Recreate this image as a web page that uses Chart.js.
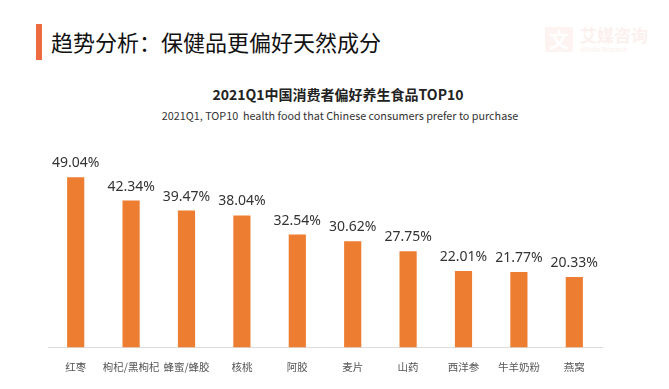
<!DOCTYPE html>
<html>
<head>
<meta charset="utf-8">
<script src="https://cdn.jsdelivr.net/npm/chart.js@4"></script>
<style>
  html, body { margin: 0; padding: 0; background: #fff; }
  body { width: 669px; height: 389px; position: relative; overflow: hidden; font-family: "Noto Sans CJK SC", "Noto Sans", sans-serif; }
  .bar-mark { position: absolute; left: 36px; top: 24px; width: 6px; height: 36px; background: #EE6A3F; }
  .head { position: absolute; left: 51px; top: 24px; font-size: 22px; color: #111; line-height: 34px; white-space: nowrap; }
  .logo-icon { position: absolute; left: 545px; top: 27px; width: 28px; height: 25px; background: #fdf3f1; color: #fff; font-size: 20px; line-height: 25px; text-align: center; font-weight: bold; }
  .logo { position: absolute; left: 580px; top: 24px; color: #fcf0ee; font-size: 17px; font-weight: bold; line-height: 22px; white-space: nowrap; }
  .logo small { display: block; font-size: 6px; font-weight: normal; line-height: 7px; }
  .title { position: absolute; left: 0; width: 676px; top: 84px; text-align: center; font-size: 14px; font-weight: bold; color: #222; line-height: 20px; }
  .sub { position: absolute; left: 0; width: 680px; top: 107px; text-align: center; font-size: 10.8px; color: #333; line-height: 16px; }
  #wrap { position: absolute; left: 0; top: 0; width: 669px; height: 389px; }
</style>
</head>
<body>
<div class="bar-mark"></div>
<div class="head">趋势分析：保健品更偏好天然成分</div>
<div class="logo-icon">文</div>
<div class="logo">艾媒咨询<small>iiMedia Research</small></div>
<div class="title">2021Q1中国消费者偏好养生食品TOP10</div>
<div class="sub">2021Q1, TOP10&nbsp; health food that Chinese consumers prefer to purchase</div>
<div id="wrap"><canvas id="healthChart"></canvas></div>
<script>
// Data
const categories = ['红枣', '枸杞/黑枸杞', '蜂蜜/蜂胶', '核桃', '阿胶', '麦片', '山药', '西洋参', '牛羊奶粉', '燕窝'];
const shares = [49.04, 42.34, 39.47, 38.04, 32.54, 30.62, 27.75, 22.01, 21.77, 20.33];

// value labels above the bars
const valueLabels = {
    id: 'valueLabels',
    afterDatasetsDraw(chart) {
        const ctx = chart.ctx;
        const meta = chart.getDatasetMeta(0);
        ctx.save();
        ctx.font = '14px "Noto Sans", sans-serif';
        ctx.fillStyle = '#333';
        ctx.textAlign = 'center';
        ctx.textBaseline = 'alphabetic';
        meta.data.forEach((bar, i) => {
            ctx.fillText(shares[i].toFixed(2) + '%', bar.x, bar.y - 10);
        });
        ctx.restore();
    }
};

function initChart() {
    const ctx = document.getElementById('healthChart');
    new Chart(ctx, {
        type: 'bar',
        data: {
            labels: categories,
            datasets: [{
                data: shares,
                backgroundColor: '#ED7D31',
                barPercentage: 0.62,
                categoryPercentage: 0.5
            }]
        },
        options: {
            responsive: true,
            maintainAspectRatio: false,
            animation: false,
            layout: { padding: { left: 48, right: 67, top: 174, bottom: 3 } },
            plugins: {
                legend: { display: false },
                tooltip: { enabled: false }
            },
            scales: {
                y: {
                    display: false,
                    min: 0,
                    max: 50
                },
                x: {
                    grid: { display: false, drawTicks: false },
                    border: { color: '#dcdcdc' },
                    ticks: {
                        color: '#555',
                        padding: 13,
                        maxRotation: 0,
                        autoSkip: false,
                        font: { size: 10.5, family: '"Noto Sans CJK SC", sans-serif' }
                    }
                }
            }
        },
        plugins: [valueLabels]
    });
}

initChart();
</script>
</body>
</html>
